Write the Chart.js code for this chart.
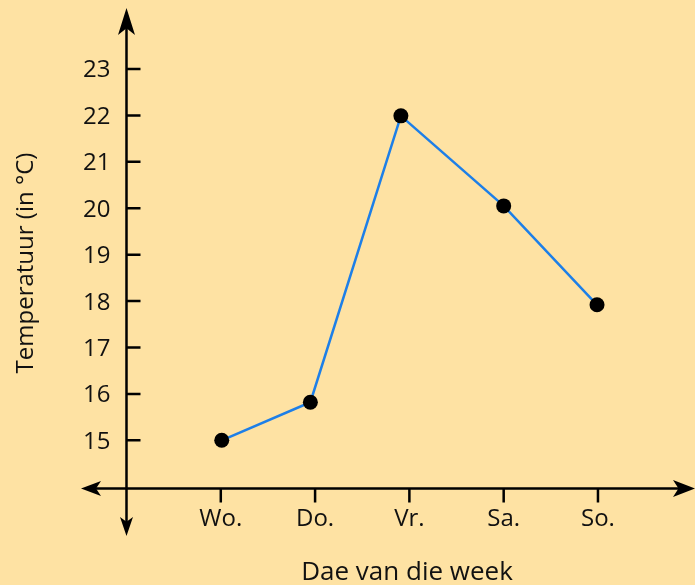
<!DOCTYPE html>
<html>
<head>
<meta charset="utf-8">
<script src="https://cdn.jsdelivr.net/npm/chart.js@4/dist/chart.umd.min.js"></script>
<style>
  body { margin: 0; background: #fee2a3; }
  #wrap { width: 695px; height: 585px; }
</style>
</head>
<body>
<div id="wrap"><canvas id="myChart" width="695" height="585"></canvas></div>
<script>
// data
var days = ["Wo.", "Do.", "Vr.", "Sa.", "So."];
var dayTicks = [1, 2, 3, 4, 5];
var dayX = [1.01, 1.95, 2.91, 4.0, 4.99];
var temps = [15, 15.82, 21.99, 20.05, 17.92];
var yTicks = [15, 16, 17, 18, 19, 20, 21, 22, 23];
var xAxisAt = 13.96;
var xTitle = "Dae van die week";
var yTitle = "Temperatuur (in °C)";

var font = "'Open Sans', sans-serif";
var ink = "#111";

function arrowHead(ctx, tipX, tipY, dx, dy, len, half) {
  // dx,dy = unit direction the arrow points to
  var bx = tipX - dx * len, by = tipY - dy * len;
  var px = -dy, py = dx;
  ctx.beginPath();
  ctx.moveTo(tipX, tipY);
  ctx.lineTo(bx + px * half, by + py * half);
  ctx.lineTo(tipX - dx * len * 0.75, tipY - dy * len * 0.75);
  ctx.lineTo(bx - px * half, by - py * half);
  ctx.closePath();
  ctx.fill();
}

var axesPlugin = {
  id: "axesPlugin",
  beforeDatasetsDraw: function (chart) {
    var ctx = chart.ctx;
    var xs = chart.scales.x, ys = chart.scales.y;
    var area = chart.chartArea;
    var ax = xs.getPixelForValue(0);
    var ay = ys.getPixelForValue(xAxisAt);
    ctx.save();
    ctx.strokeStyle = "#000";
    ctx.fillStyle = "#000";
    ctx.lineWidth = 2.5;

    // axis lines
    ctx.beginPath();
    ctx.moveTo(ax, area.top + 10);
    ctx.lineTo(ax, area.bottom - 6);
    ctx.moveTo(area.left + 6, ay);
    ctx.lineTo(area.right - 6, ay);
    ctx.stroke();

    arrowHead(ctx, ax, area.top, 0, -1, 27, 8.5);
    arrowHead(ctx, ax, area.bottom, 0, 1, 19, 6.5);
    arrowHead(ctx, area.left, ay, -1, 0, 20, 7.5);
    arrowHead(ctx, area.right, ay, 1, 0, 22, 8.5);

    // tick marks
    ctx.beginPath();
    yTicks.forEach(function (v) {
      var y = ys.getPixelForValue(v);
      ctx.moveTo(ax, y);
      ctx.lineTo(ax + 14, y);
    });
    dayTicks.forEach(function (v) {
      var x = xs.getPixelForValue(v);
      ctx.moveTo(x, ay);
      ctx.lineTo(x, ay + 14);
    });
    ctx.stroke();

    // tick labels
    ctx.fillStyle = ink;
    ctx.font = "24px " + font;
    ctx.textAlign = "right";
    ctx.textBaseline = "alphabetic";
    yTicks.forEach(function (v) {
      ctx.fillText(String(v), ax - 16, ys.getPixelForValue(v) + 8.5);
    });
    ctx.textAlign = "center";
    dayTicks.forEach(function (v, i) {
      ctx.fillText(days[i], xs.getPixelForValue(v), ay + 37);
    });

    // titles
    ctx.font = "26px " + font;
    ctx.fillText(xTitle, 407, 580);
    ctx.font = "24px " + font;
    ctx.translate(33, 263);
    ctx.rotate(-Math.PI / 2);
    ctx.fillText(yTitle, 0, 0);
    ctx.restore();
  }
};

var ctx = document.getElementById("myChart").getContext("2d");
var myChart = new Chart(ctx, {
  type: "scatter",
  data: {
    datasets: [
      {
        label: "Temperatuur",
        data: dayX.map(function (x, i) { return { x: x, y: temps[i] }; }),
        showLine: true,
        borderColor: "#1d7fe8",
        borderWidth: 2.5,
        pointRadius: 7.5,
        pointHoverRadius: 7.5,
        pointBackgroundColor: "#000",
        pointBorderWidth: 0
      }
    ]
  },
  options: {
    responsive: false,
    animation: false,
    layout: { autoPadding: false, padding: { left: 81, right: 0, top: 8, bottom: 49 } },
    plugins: { legend: { display: false }, tooltip: { enabled: false } },
    scales: {
      x: { type: "linear", display: false, min: -0.4825, max: 6.029 },
      y: { type: "linear", display: false, min: 12.938, max: 24.314 }
    }
  },
  plugins: [axesPlugin]
});
</script>
</body>
</html>
